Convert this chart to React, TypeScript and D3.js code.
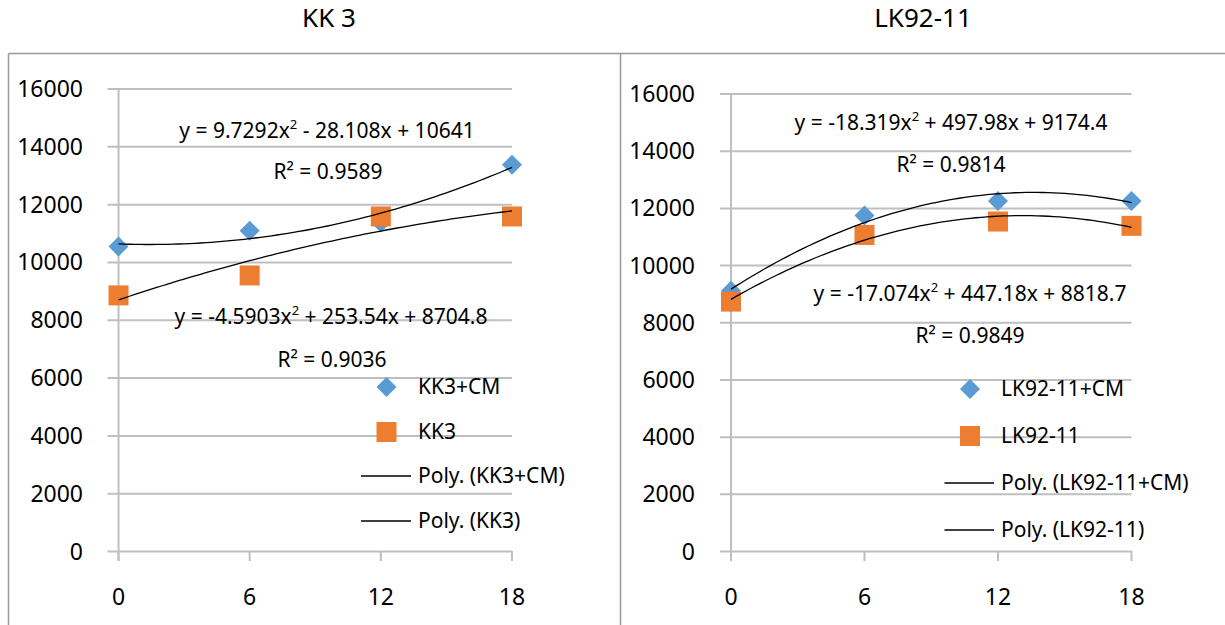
import * as d3 from 'd3';
import React from 'react';

// ------------------------------------------------------------
// data
// ------------------------------------------------------------
const days = [0, 6, 12, 18];
const yTicks = [0, 2000, 4000, 6000, 8000, 10000, 12000, 14000, 16000];

const kk3cm = [10550, 11100, 11380, 13380];
const kk3 = [8860, 9550, 11590, 11590];
const lk9211cm = [9120, 11750, 12260, 12260];
const lk9211 = [8740, 11070, 11540, 11390];

// polynomial trendline coefficients [a, b, c] for a*x^2 + b*x + c
const kk3cmPoly = [9.7292, -28.108, 10641];
const kk3Poly = [-4.5903, 253.54, 8704.8];
const lk9211cmPoly = [-18.319, 497.98, 9174.4];
const lk9211Poly = [-17.074, 447.18, 8818.7];

const kk3cmEq = ['y = 9.7292x', ' - 28.108x + 10641'];
const kk3Eq = ['y = -4.5903x', ' + 253.54x + 8704.8'];
const lk9211cmEq = ['y = -18.319x', ' + 497.98x + 9174.4'];
const lk9211Eq = ['y = -17.074x', ' + 447.18x + 8818.7'];

const kk3cmR2 = 'R² = 0.9589';
const kk3R2 = 'R² = 0.9036';
const lk9211cmR2 = 'R² = 0.9814';
const lk9211R2 = 'R² = 0.9849';

const BLUE = '#5b9bd5';
const ORANGE = '#ed7d31';
const GRID = '#bfbfbf';
const FONT = "'Noto Sans', sans-serif";

type PanelProps = {
  title: string, titleX: number,
  x0: number, x1: number, gridLeft: number, labelRight: number, yTop: number,
  seriesA: number[], seriesB: number[], polyA: number[], polyB: number[],
  eqA: string[], eqB: string[], r2A: string, r2B: string,
  eqPosA: number[], r2PosA: number[], eqPosB: number[], r2PosB: number[],
  nameA: string, nameB: string, legX: number, legY: number[], lineX: number[],
};

function Panel(p: PanelProps) {
  const x = d3.scaleLinear().domain([0, 18]).range([p.x0, p.x1]);
  const y = d3.scaleLinear().domain([0, 16000]).range([551.5, p.yTop]);

  // trendline sampled from the polynomial shown in the chart
  const curve = (c: number[]) => {
    const pts = d3.range(0, 18.01, 0.25).map(t => [x(t), y(c[0] * t * t + c[1] * t + c[2])] as [number, number]);
    return d3.line()(pts) || '';
  };

  const diamond = (cx: number, cy: number, r: number) =>
    `M${cx},${cy - r}L${cx + r},${cy}L${cx},${cy + r}L${cx - r},${cy}Z`;

  const eq = (parts: string[], pos: number[]) => (
    <text x={pos[0]} y={pos[1]} textAnchor="middle" fontSize={21} fontFamily={FONT} fill="#000">
      {parts[0]}<tspan dy={-9} fontSize={13}>2</tspan><tspan dy={9}>{parts[1]}</tspan>
    </text>
  );

  return (
    <g>
      <text x={p.titleX} y={27} textAnchor="middle" fontSize={26} fontFamily={FONT} fill="#000">{p.title}</text>
      {/* gridlines */}
      {yTicks.map(t => (
        <g key={t}>
          <line x1={p.gridLeft} x2={p.x1} y1={y(t)} y2={y(t)} stroke={GRID} strokeWidth={2} />
          <text x={p.labelRight} y={y(t) + 8} textAnchor="end" fontSize={23} fontFamily={FONT} fill="#000">{t}</text>
        </g>
      ))}
      {/* vertical axis line */}
      <line x1={p.x0} x2={p.x0} y1={p.yTop} y2={561} stroke={GRID} strokeWidth={2} />
      {days.map(d => (
        <g key={d}>
          <line x1={x(d)} x2={x(d)} y1={551} y2={561} stroke={GRID} strokeWidth={2} />
          <text x={x(d)} y={605} textAnchor="middle" fontSize={23} fontFamily={FONT} fill="#000">{d}</text>
        </g>
      ))}
      {/* series */}
      {days.map((d, i) => (
        <path key={'a' + d} d={diamond(x(d), y(p.seriesA[i]), 10)} fill={BLUE} />
      ))}
      {days.map((d, i) => (
        <rect key={'b' + d} x={x(d) - 10} y={y(p.seriesB[i]) - 10} width={20} height={20} fill={ORANGE} />
      ))}
      {/* trendlines */}
      <path d={curve(p.polyA)} fill="none" stroke="#000" strokeWidth={1.3} />
      <path d={curve(p.polyB)} fill="none" stroke="#000" strokeWidth={1.3} />
      {eq(p.eqA, p.eqPosA)}
      {eq(p.eqB, p.eqPosB)}
      <text x={p.r2PosA[0]} y={p.r2PosA[1]} textAnchor="middle" fontSize={21} fontFamily={FONT} fill="#000">{p.r2A}</text>
      <text x={p.r2PosB[0]} y={p.r2PosB[1]} textAnchor="middle" fontSize={21} fontFamily={FONT} fill="#000">{p.r2B}</text>
      {/* legend */}
      <path d={diamond(p.legX, p.legY[0], 10)} fill={BLUE} />
      <rect x={p.legX - 10} y={p.legY[1] - 10} width={20} height={20} fill={ORANGE} />
      <line x1={p.lineX[0]} x2={p.lineX[1]} y1={p.legY[2]} y2={p.legY[2]} stroke="#000" strokeWidth={1.3} />
      <line x1={p.lineX[0]} x2={p.lineX[1]} y1={p.legY[3]} y2={p.legY[3]} stroke="#000" strokeWidth={1.3} />
      {[p.nameA, p.nameB, `Poly. (${p.nameA})`, `Poly. (${p.nameB})`].map((n, i) => (
        <text key={n} x={p.lineX[1] + 7} y={p.legY[i] + 7} fontSize={21} fontFamily={FONT} fill="#000">{n}</text>
      ))}
    </g>
  );
}

export default function App() {
  return (
    <svg width={1225} height={625} style={{ position: 'absolute', left: 0, top: 0, background: '#fff' }}>
      <rect x={0} y={0} width={1225} height={625} fill="#fff" />
      {/* panel frames */}
      <line x1={8.5} x2={1225} y1={53.5} y2={53.5} stroke="#999" strokeWidth={1.5} />
      <line x1={8.5} x2={8.5} y1={53.5} y2={625} stroke="#999" strokeWidth={1.5} />
      <line x1={620.5} x2={620.5} y1={53.5} y2={625} stroke="#999" strokeWidth={1.5} />
      <Panel title="KK 3" titleX={329} x0={118.5} x1={512} gridLeft={107.5} labelRight={83} yTop={89}
        seriesA={kk3cm} seriesB={kk3} polyA={kk3cmPoly} polyB={kk3Poly}
        eqA={kk3cmEq} eqB={kk3Eq} r2A={kk3cmR2} r2B={kk3R2}
        eqPosA={[327, 138]} r2PosA={[328, 179]} eqPosB={[331, 324]} r2PosB={[332, 367]}
        nameA="KK3+CM" nameB="KK3" legX={386.5} legY={[387, 432, 476, 521]} lineX={[361, 411]} />
      <Panel title="LK92-11" titleX={923} x0={731} x1={1131.5} gridLeft={720} labelRight={695} yTop={94}
        seriesA={lk9211cm} seriesB={lk9211} polyA={lk9211cmPoly} polyB={lk9211Poly}
        eqA={lk9211cmEq} eqB={lk9211Eq} r2A={lk9211cmR2} r2B={lk9211R2}
        eqPosA={[951, 130]} r2PosA={[951, 172]} eqPosB={[970, 301]} r2PosB={[970, 343]}
        nameA="LK92-11+CM" nameB="LK92-11" legX={970} legY={[389, 436, 483, 530]} lineX={[944.5, 994]} />
    </svg>
  );
}
